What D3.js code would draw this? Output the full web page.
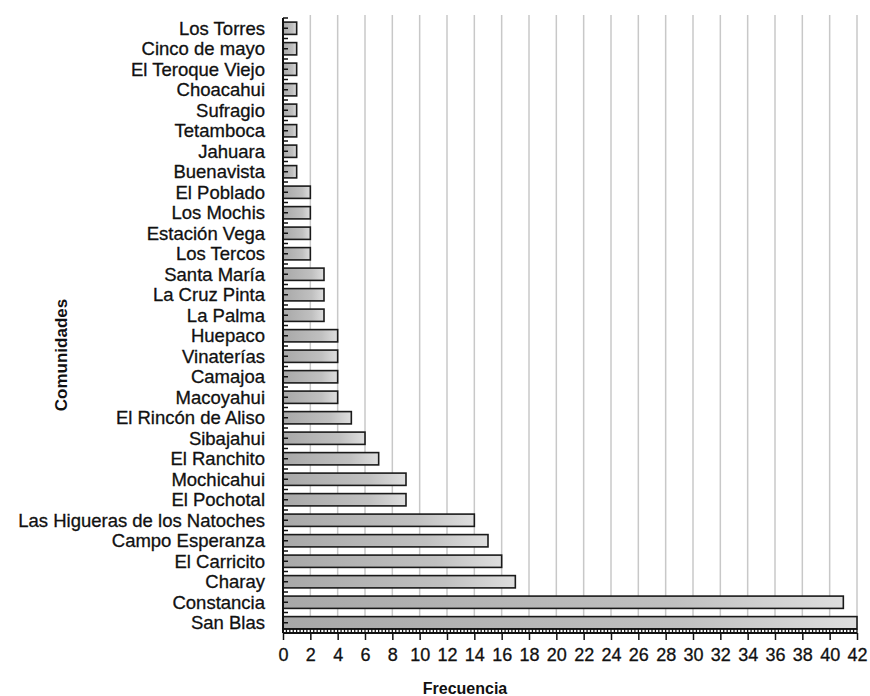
<!DOCTYPE html>
<html>
<head>
<meta charset="utf-8">
<script src="https://cdn.jsdelivr.net/npm/d3@7"></script>
<style>
  body { margin: 0; background: #fff; }
  text { font-family: Arial, "Liberation Sans", sans-serif; fill: #111; }
</style>
</head>
<body>
<div id="chart"></div>
<script>
const categories = ['Los Torres', 'Cinco de mayo', 'El Teroque Viejo', 'Choacahui', 'Sufragio',
  'Tetamboca', 'Jahuara', 'Buenavista', 'El Poblado', 'Los Mochis', 'Estación Vega', 'Los Tercos',
  'Santa María', 'La Cruz Pinta', 'La Palma', 'Huepaco', 'Vinaterías', 'Camajoa', 'Macoyahui',
  'El Rincón de Aliso', 'Sibajahui', 'El Ranchito', 'Mochicahui', 'El Pochotal',
  'Las Higueras de los Natoches', 'Campo Esperanza', 'El Carricito', 'Charay', 'Constancia', 'San Blas'];
const values = [1, 1, 1, 1, 1, 1, 1, 1, 2, 2, 2, 2, 3, 3, 3, 4, 4, 4, 4, 5, 6, 7, 9, 9, 14, 15, 16, 17, 41, 42];
const xTicks = d3.range(0, 43, 2);

const width = 870;
const height = 696;
const plotLeft = 283, plotRight = 857, plotTop = 18, plotBottom = 633;

const svg = d3.select('#chart')
  .append('svg')
  .attr('width', width)
  .attr('height', height);

const grad = svg.append('defs').append('linearGradient')
  .attr('id', 'barGrad')
  .attr('x1', '0%').attr('x2', '100%').attr('y1', '0%').attr('y2', '0%');
grad.append('stop').attr('offset', '0%').attr('stop-color', '#a8a8a8');
grad.append('stop').attr('offset', '70%').attr('stop-color', '#c0c0c0');
grad.append('stop').attr('offset', '100%').attr('stop-color', '#dedede');

const x = d3.scaleLinear().domain([0, 42]).range([plotLeft, plotRight]);
const y = d3.scaleBand().domain(categories).range([plotTop, plotBottom]).paddingInner(0.4).paddingOuter(0.2);

// vertical gridlines
svg.selectAll('line.grid')
  .data(xTicks.filter(d => d > 0))
  .enter()
  .append('line')
  .attr('class', 'grid')
  .attr('x1', d => x(d)).attr('x2', d => x(d))
  .attr('y1', plotTop - 3).attr('y2', plotBottom - 4)
  .attr('stroke', '#c8c8c8')
  .attr('stroke-width', 1.5);

// bars
svg.selectAll('rect.bar')
  .data(values)
  .enter()
  .append('rect')
  .attr('class', 'bar')
  .attr('x', x(0))
  .attr('y', (d, i) => y(categories[i]))
  .attr('width', d => x(d) - x(0))
  .attr('height', y.bandwidth())
  .attr('fill', 'url(#barGrad)')
  .attr('stroke', '#1a1a1a')
  .attr('stroke-width', 1.6);

// y axis line and ticks
svg.append('line')
  .attr('x1', plotLeft).attr('x2', plotLeft)
  .attr('y1', plotTop).attr('y2', plotBottom)
  .attr('stroke', '#111').attr('stroke-width', 2);

const step = y.step();
const yTickPos = d3.range(0, categories.length * 2 + 1).map(k => plotTop + k * step / 2);
svg.selectAll('line.ytick')
  .data(yTickPos)
  .enter()
  .append('line')
  .attr('class', 'ytick')
  .attr('x1', plotLeft).attr('x2', plotLeft + 5)
  .attr('y1', d => d).attr('y2', d => d)
  .attr('stroke', '#111').attr('stroke-width', 1.5);

// y labels
svg.selectAll('text.ylab')
  .data(categories)
  .enter()
  .append('text')
  .attr('class', 'ylab')
  .attr('x', 265)
  .attr('y', d => y(d) + y.bandwidth() / 2)
  .attr('dy', '.36em')
  .attr('text-anchor', 'end')
  .attr('stroke', '#111')
  .attr('stroke-width', 0.3)
  .style('font-size', '18.5px')
  .text(d => d);

// x axis: ladder of minor ticks
svg.append('line')
  .attr('x1', plotLeft).attr('x2', plotRight)
  .attr('y1', plotBottom - 4).attr('y2', plotBottom - 4)
  .attr('stroke', '#111').attr('stroke-width', 1.5);
svg.append('line')
  .attr('x1', plotLeft).attr('x2', plotRight)
  .attr('y1', plotBottom).attr('y2', plotBottom)
  .attr('stroke', '#111').attr('stroke-width', 2);
svg.selectAll('line.minor')
  .data(d3.range(0, 42.01, 0.25))
  .enter()
  .append('line')
  .attr('class', 'minor')
  .attr('x1', d => x(d)).attr('x2', d => x(d))
  .attr('y1', plotBottom - 4).attr('y2', plotBottom)
  .attr('stroke', '#111').attr('stroke-width', 1.3);

const xAxis = d3.axisBottom(x).tickValues(xTicks).tickSize(7).tickPadding(8).tickFormat(d3.format('d'));
const gx = svg.append('g')
  .attr('transform', `translate(0,${plotBottom})`)
  .call(xAxis);
gx.select('.domain').remove();
gx.selectAll('.tick line').attr('stroke', '#111').attr('stroke-width', 1.5);
gx.selectAll('.tick text')
  .style('font-size', '18px')
  .style('font-family', 'Arial, "Liberation Sans", sans-serif')
  .attr('fill', '#111')
  .attr('stroke', '#111')
  .attr('stroke-width', 0.3);

// axis titles
svg.append('text')
  .attr('x', 465)
  .attr('y', 694)
  .attr('text-anchor', 'middle')
  .style('font-size', '16px')
  .style('font-weight', 'bold')
  .text('Frecuencia');

svg.append('text')
  .attr('transform', 'translate(67,355) rotate(-90)')
  .attr('text-anchor', 'middle')
  .style('font-size', '17px')
  .style('font-weight', 'bold')
  .text('Comunidades');
</script>
</body>
</html>
